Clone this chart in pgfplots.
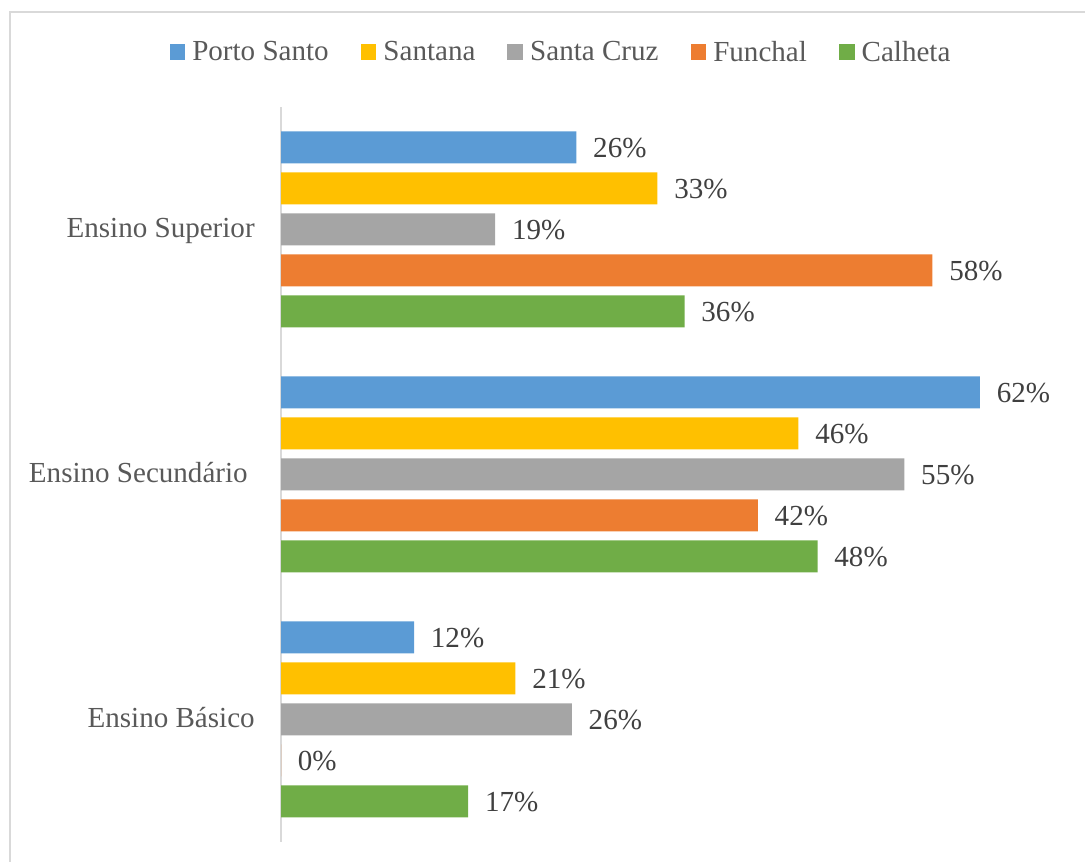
\documentclass[border=0pt]{standalone}
\usepackage{pgfplots}
\pgfplotsset{compat=1.18}
\usepackage{fontspec}
\setmainfont{Liberation Serif}
\definecolor{cBlue}{HTML}{5B9BD5}
\definecolor{cGold}{HTML}{FFC000}
\definecolor{cGray}{HTML}{A5A5A5}
\definecolor{cOrange}{HTML}{ED7D31}
\definecolor{cGreen}{HTML}{70AD47}
\definecolor{cLine}{HTML}{D9D9D9}
\definecolor{cTxt}{HTML}{595959}
\definecolor{cLab}{HTML}{404040}
\begin{document}
\begin{tikzpicture}
\useasboundingbox (0,0) rectangle (813.75pt,646.5pt);
\draw[cLine, line width=0.8pt] (7.5pt,0pt) -- (7.5pt,637.5pt) -- (820pt,637.5pt);
\begin{axis}[
  at={(210.75pt,15pt)}, anchor=south west,
  scale only axis, width=591.75pt, height=551.25pt,
  xbar, bar width=24pt,
  xmin=0, xmax=70, ymin=-0.5, ymax=2.5,
  axis x line=none,
  axis y line*=left,
  y axis line style={-, draw=cLine, line width=0.8pt},
  ytick={0,1,2},
  yticklabels={Ensino Básico, {Ensino Secundário\kern5.25pt\null}, Ensino Superior},
  major tick length=0pt,
  /pgf/number format/assume math mode=true,
  font=\fontsize{21.8}{26}\selectfont,
  yticklabel style={anchor=base east, inner sep=0pt, xshift=-19.5pt, yshift=-5.8pt, text=cTxt},
  nodes near coords={\pgfmathprintnumber[fixed,precision=0]{\pgfplotspointmeta}\%},
  every node near coord/.append style={anchor=base west, inner sep=0pt, xshift=12.5pt, yshift=-7.3pt, text=cLab},
  legend columns=5,
  legend style={draw=none, fill=none, at={(0.3536,1.0748)}, anchor=center,
    font=\fontsize{21.8}{26}\selectfont,
    nodes={inner sep=0pt, text=cTxt},
    /tikz/every odd column/.style={column sep=5.25pt},
    /tikz/every even column/.style={column sep=24pt}},
  legend image code/.code={\fill[#1] (0pt,-5.9pt) rectangle (11.8pt,5.9pt);},
]
\addplot[fill=cBlue, draw=none, bar shift=61.5pt] coordinates {(11.8,0) (62.0,1) (26.2,2)};
\addlegendentry{Porto Santo}
\addplot[fill=cGold, draw=none, bar shift=30.75pt] coordinates {(20.8,0) (45.9,1) (33.4,2)};
\addlegendentry{Santana}
\addplot[fill=cGray, draw=none, bar shift=0pt] coordinates {(25.8,0) (55.3,1) (19.0,2)};
\addlegendentry{Santa Cruz}
\addplot[fill=cOrange, draw=none, bar shift=-30.75pt] coordinates {(0,0) (42.3,1) (57.8,2)};
\addlegendentry{Funchal}
\addplot[fill=cGreen, draw=none, bar shift=-61.5pt] coordinates {(16.6,0) (47.6,1) (35.8,2)};
\addlegendentry{Calheta}
\end{axis}
\end{tikzpicture}
\end{document}
